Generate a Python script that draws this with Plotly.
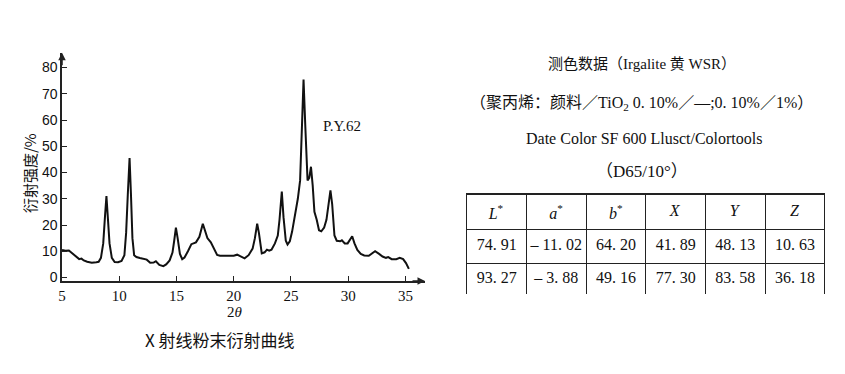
import plotly.graph_objects as go

# ---- XRD curve data (2θ, intensity %) ----
two_theta = [5.0, 5.3, 5.6, 5.9, 6.2, 6.5, 6.7, 6.9, 7.2, 7.6, 8.0, 8.2, 8.4, 8.6, 8.75, 8.88, 9.0, 9.15, 9.35, 9.6,
             9.9, 10.2, 10.45, 10.6, 10.75, 10.9, 11.02, 11.15, 11.3, 11.5, 11.8, 12.1, 12.4, 12.7, 13.0, 13.2, 13.5, 13.85, 14.1, 14.4,
             14.65, 14.8, 14.95, 15.1, 15.3, 15.5, 15.7, 16.0, 16.3, 16.7, 17.0, 17.3, 17.5, 17.7, 18.0, 18.3, 18.55, 18.8, 19.5, 20.0,
             20.3, 20.6, 20.95, 21.3, 21.65, 21.85, 22.05, 22.2, 22.45, 22.7, 22.9, 23.1, 23.3, 23.6, 23.85, 24.0, 24.2, 24.35, 24.55, 24.7,
             24.9, 25.1, 25.35, 25.6, 25.8, 25.95, 26.1, 26.25, 26.45, 26.6, 26.75, 26.9, 27.05, 27.25, 27.45, 27.65, 27.9, 28.1, 28.45, 28.6,
             28.8, 29.0, 29.3, 29.45, 29.7, 29.95, 30.15, 30.35, 30.55, 30.8, 31.1, 31.4, 31.8, 32.05, 32.35, 32.7, 33.0, 33.3, 33.5, 33.8,
             34.2, 34.5, 34.8, 35.05, 35.3]
intensity = [10.5, 10.2, 10.3, 9.3, 8.0, 7.0, 7.2, 6.5, 6.0, 5.6, 5.8, 6.0, 7.5, 13, 23, 31, 23, 13, 7.5, 5.9,
             5.8, 6.3, 8.5, 17, 32, 45.5, 32, 15, 8.5, 7.8, 7.4, 7.0, 6.8, 5.6, 5.7, 6.2, 4.8, 4.3, 5.0, 6.5,
             9.5, 14, 19, 15, 9, 7.0, 7.6, 10, 12.7, 13.4, 15.5, 20.5, 17.5, 15, 13.4, 11, 8.6, 8.3, 8.3, 8.3,
             8.7, 8.0, 7.3, 8.5, 11, 15, 20.5, 17, 9.2, 9.6, 10.6, 10.2, 10.6, 13, 16, 22, 32.7, 23, 14, 12.6,
             13.8, 17.5, 24, 30, 37, 58, 75.4, 58, 37, 38, 42.2, 35, 25, 22, 18, 17.6, 19, 22, 33.2, 28,
             16, 14, 13.8, 14.2, 13.0, 13.0, 14.5, 15.7, 13, 10.5, 9, 8.4, 8.3, 9, 10, 9, 8.0, 7.5, 7.8, 7.0,
             7.0, 7.5, 7.0, 5.5, 3.3]

x_ticks = [5, 10, 15, 20, 25, 30, 35]
y_ticks = [0, 10, 20, 30, 40, 50, 60, 70, 80]

# ---- colour measurement table ----
table_headers = ["L", "a", "b", "X", "Y", "Z"]
header_star = [True, True, True, False, False, False]
row_1 = [74.91, -11.02, 64.20, 41.89, 48.13, 10.63]
row_2 = [93.27, -3.88, 49.16, 77.30, 83.58, 36.18]

SERIF = "Liberation Serif, Noto Sans CJK SC, serif"
SANS = "Liberation Sans, Arial, sans-serif"
CJK = "Noto Sans CJK SC, sans-serif"
NB = "\u00a0"


def fmt(v):
    s = f"{abs(v):.2f}".replace(".", "." + NB)
    return ("\u2013" + NB + s) if v < 0 else s


W, H = 845, 374
fig = go.Figure()

fig.add_trace(go.Scatter(x=two_theta, y=intensity, mode="lines",
                         line=dict(color="#111111", width=2), hoverinfo="skip", showlegend=False))

hdr = [f"<i>{h}</i><sup>*</sup>" if s else f"<i>{h}</i>" for h, s in zip(table_headers, header_star)]
cols = [[fmt(a), fmt(b)] for a, b in zip(row_1, row_2)]
fig.add_trace(go.Table(
    domain=dict(x=[465 / W, 825 / W], y=[1 - 298 / H, 1 - 196 / H]),
    columnwidth=[1] * 6,
    header=dict(values=hdr, height=33.5, align="center", fill_color="white",
                line=dict(color="#222222", width=1.2),
                font=dict(family=SERIF, size=16, color="#111111")),
    cells=dict(values=cols, height=33.5, align="center", fill_color="white",
               line=dict(color="#222222", width=1.2),
               font=dict(family=SERIF, size=16, color="#111111")),
))

x0, x1 = 58.3 / W, 423 / W
y0, y1 = 1 - 284 / H, 1 - 53.3 / H

fig.update_layout(
    width=W, height=H, margin=dict(l=0, r=0, t=0, b=0),
    paper_bgcolor="white", plot_bgcolor="white", showlegend=False,
    xaxis=dict(domain=[x0, x1], range=[5, 36.71], showgrid=False, zeroline=False,
               showline=True, linecolor="#222222", linewidth=1.5,
               tickmode="array", tickvals=x_ticks, ticks="inside", ticklen=5, tickwidth=1.2,
               tickcolor="#222222", tickfont=dict(family=SERIF, size=15, color="#111111")),
    yaxis=dict(domain=[y0, y1], range=[-1.32, 85.65], showgrid=False, zeroline=False,
               showline=True, linecolor="#222222", linewidth=1.5,
               tickmode="array", tickvals=y_ticks, ticks="inside", ticklen=5, tickwidth=1.2,
               tickcolor="#222222", tickfont=dict(family=SANS, size=14, color="#111111")),
)


def label(x, y, text, font, **kw):
    d = dict(xref="paper", yref="paper", x=x / W, y=1 - y / H, text=text, showarrow=False,
             xanchor="center", yanchor="middle", font=font)
    d.update(kw)
    return d


ann = []
# axis arrowheads
ann.append(dict(xref="paper", yref="paper", x=x1, y=y0, ax=-14, ay=0, text="", showarrow=True,
                arrowhead=2, arrowsize=1, arrowwidth=1.5, arrowcolor="#222222"))
ann.append(dict(xref="paper", yref="paper", x=x0, y=y1, ax=0, ay=14, text="", showarrow=True,
                arrowhead=2, arrowsize=1, arrowwidth=1.5, arrowcolor="#222222"))
# labels
ann.append(dict(xref="x", yref="y", x=29.5, y=57.9, text="P.Y.62", showarrow=False,
                xanchor="center", yanchor="middle",
                font=dict(family=SERIF, size=15, color="#111111")))
ann.append(label(231.7, 315, "2<i>θ</i>", dict(family=SERIF, size=15, color="#111111")))
ann.append(label(216.7, 343, "X 射线粉末衍射曲线", dict(family=CJK, size=17, color="#111111")))
ann.append(label(25, 175, "衍射强度/%", dict(family=CJK, size=15, color="#111111"), textangle=-90))
# right-hand text block
ann.append(label(641, 65, "测色数据（Irgalite 黄 WSR）", dict(family=SERIF, size=15, color="#111111")))
ann.append(label(641, 105, "（聚丙烯：颜料／TiO<sub>2</sub> 0. 10%／—;0. 10%／1%）",
                 dict(family=SERIF, size=16, color="#111111")))
ann.append(label(643, 140, "Date Color SF 600 Llusct/Colortools", dict(family=SERIF, size=16, color="#111111")))
ann.append(label(641, 173, "（D65/10°）", dict(family=SERIF, size=17, color="#111111")))
fig.update_layout(annotations=ann)

fig.write_html("out.html", config={"displayModeBar": False},
               post_script="document.body.style.margin='0';")
